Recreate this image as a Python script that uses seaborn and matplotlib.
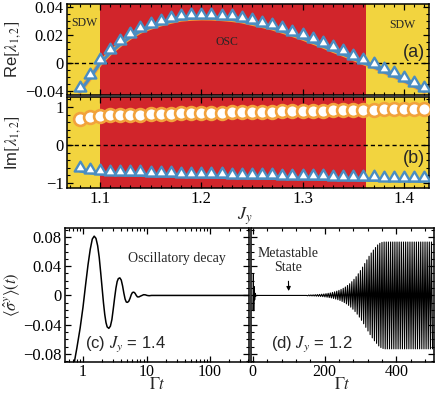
import numpy as np
import matplotlib
matplotlib.use("Agg")
import matplotlib.pyplot as plt
import seaborn as sns
from matplotlib.path import Path
from matplotlib.ticker import (MultipleLocator, FixedLocator, FixedFormatter,
                               FuncFormatter, LogLocator, NullFormatter)

# ---- data ----
jy = [1.08, 1.09, 1.10, 1.11, 1.12, 1.13, 1.14, 1.15, 1.16, 1.17,
      1.18, 1.19, 1.20, 1.21, 1.22, 1.23, 1.24, 1.25, 1.26, 1.27,
      1.28, 1.29, 1.30, 1.31, 1.32, 1.33, 1.34, 1.35, 1.36, 1.37,
      1.38, 1.39, 1.40, 1.41, 1.42]
re_lambda = [-0.0203, -0.0109, -0.0004, 0.0071, 0.0131, 0.0183, 0.0225, 0.0253,
             0.0276, 0.0295, 0.0310, 0.0316, 0.0319, 0.0318, 0.0314, 0.0308,
             0.0298, 0.0281, 0.0265, 0.0248, 0.0225, 0.0201, 0.0176, 0.0148,
             0.0120, 0.0089, 0.0061, 0.0031, 0.0001, -0.0027, -0.0062, -0.0093,
             -0.0126, -0.0163, -0.0203]
im_lambda2 = [0.68, 0.73, 0.76, 0.775, 0.785, 0.795, 0.80, 0.81, 0.815, 0.82,
              0.828, 0.834, 0.84, 0.846, 0.852, 0.857, 0.862, 0.868, 0.873, 0.878,
              0.883, 0.888, 0.893, 0.898, 0.903, 0.908, 0.913, 0.918, 0.923, 0.928,
              0.933, 0.938, 0.943, 0.948, 0.953]
im_lambda1 = [-v for v in im_lambda2]  # complex conjugate pair
osc_start, osc_end = 1.10, 1.363

# (c) J_y = 1.4, oscillatory decay
c_t = [0.70, 0.80, 0.90, 1.00, 1.10, 1.20, 1.30, 1.40, 1.50, 1.60,
       1.70, 1.80, 1.90, 2.00, 2.10, 2.20, 2.30, 2.40, 2.55, 2.70,
       2.85, 3.00, 3.15, 3.30, 3.45, 3.60, 3.80, 4.00, 4.20, 4.40,
       4.60, 4.80, 5.00, 5.25, 5.50, 5.75, 6.00, 6.30, 6.60, 6.90,
       7.20, 7.60, 8.00, 8.50, 9.00, 9.60, 10.2, 11.0, 12.0, 20.0, 500.0]
c_y = [-0.100, -0.072, -0.045, -0.016, 0.015, 0.042, 0.063, 0.077, 0.081, 0.078,
       0.068, 0.052, 0.031, 0.010, -0.010, -0.026, -0.037, -0.043, -0.045, -0.042,
       -0.033, -0.018, -0.003, 0.010, 0.019, 0.023, 0.024, 0.021, 0.013, 0.003,
       -0.005, -0.009, -0.0095, -0.008, -0.004, 0.001, 0.004, 0.0045, 0.003, 0.000,
       -0.002, -0.002, -0.001, 0.000, 0.001, 0.0008, 0.000, -0.0004, 0.0, 0.0, 0.0]

# (d) J_y = 1.2, transient then metastable plateau
d_t_start = [0.0, 1.0, 1.6, 2.7, 3.9, 5.2, 6.5, 8.0, 10.0, 150.0]
d_y_start = [-0.020, 0.010, 0.029, -0.021, 0.012, -0.006, 0.003, -0.001, 0.0, 0.0]
# growing oscillation: one amplitude per cycle, starting at t = 150
d_osc_start = 150.0
d_period = 6.0
d_amp = [0.0005, 0.0006, 0.0007, 0.0008, 0.0010, 0.0012, 0.0014, 0.0017, 0.0020, 0.0024,
         0.0029, 0.0034, 0.0041, 0.0049, 0.0058, 0.0069, 0.0082, 0.0097, 0.0115, 0.0136,
         0.0160, 0.0188, 0.0220, 0.0256, 0.0296, 0.0340, 0.0387, 0.0436, 0.0486, 0.0535,
         0.0580, 0.0620, 0.0655, 0.0690, 0.0712, 0.0725] + [0.073] * 23

# ---- style ----
yellow = "#f2d43f"
red = "#d1252b"
blue = "#4a8dc2"
orange = "#f2a23c"

sns.set_theme(style="ticks", rc={
    "xtick.direction": "in", "ytick.direction": "in",
    "xtick.top": True, "ytick.right": True,
    "xtick.major.size": 4, "ytick.major.size": 4,
    "xtick.minor.size": 2.2, "ytick.minor.size": 2.2,
    "xtick.major.width": 0.9, "ytick.major.width": 0.9,
    "xtick.minor.width": 0.8, "ytick.minor.width": 0.8,
    "xtick.major.pad": 2.5, "ytick.major.pad": 2.5,
    "axes.linewidth": 1.1, "axes.edgecolor": "black",
    "xtick.color": "black", "ytick.color": "black",
    "mathtext.fontset": "stix",
})
plt.rcParams["font.family"] = ["Liberation Serif", "DejaVu Serif"]


def fmt(v, pos):
    if abs(v) < 1e-12:
        return "0"
    return f"{v:g}".replace("-", "\u2212")


tri = Path([(0, 1.7), (-1, 0), (1, 0), (0, 1.7)],
           [Path.MOVETO, Path.LINETO, Path.LINETO, Path.CLOSEPOLY])

fig = plt.figure(figsize=(4.36, 3.95), dpi=100)
ax_a = fig.add_axes([0.1537, 0.7595, 0.830, 0.2304])
ax_b = fig.add_axes([0.1537, 0.524, 0.830, 0.2304])
ax_c = fig.add_axes([0.149, 0.0835, 0.422, 0.339])
ax_d = fig.add_axes([0.5757, 0.0835, 0.4197, 0.339])

xlim_top = (1.0675, 1.4246)
for ax in (ax_a, ax_b):
    ax.axvspan(xlim_top[0], osc_start, color=yellow, lw=0, zorder=0)
    ax.axvspan(osc_start, osc_end, color=red, lw=0, zorder=0)
    ax.axvspan(osc_end, xlim_top[1], color=yellow, lw=0, zorder=0)
    ax.axhline(0, color="black", ls=(0, (3, 2.2)), lw=1.0, zorder=1.5)
    ax.set_xlim(*xlim_top)
    ax.xaxis.set_major_locator(MultipleLocator(0.1))
    ax.xaxis.set_minor_locator(MultipleLocator(0.01))
    ax.xaxis.set_major_formatter(FuncFormatter(fmt))
    ax.tick_params(labelsize=12)

# (a) real parts (identical for both eigenvalues)
sns.lineplot(x=jy, y=re_lambda, ax=ax_a, color=orange, linewidth=3.6, zorder=2)
sns.lineplot(x=jy, y=re_lambda, ax=ax_a, color=blue, linewidth=2.2, zorder=3)
sns.scatterplot(x=jy, y=re_lambda, ax=ax_a, marker=tri, s=200, color="white",
                edgecolor=blue, linewidth=1.7, zorder=4)
ax_a.set_ylim(-0.0228, 0.0418)
ax_a.yaxis.set_major_locator(FixedLocator([-0.02, 0, 0.02, 0.04]))
ax_a.yaxis.set_major_formatter(FixedFormatter(["\u22120.04", "0", "0.02", "0.04"]))
ax_a.yaxis.set_minor_locator(MultipleLocator(0.005))
ax_a.tick_params(labelbottom=False)
ax_a.set_ylabel(r"Re$[\lambda_{1,2}]$", family="Liberation Sans", fontsize=12)
ax_a.yaxis.set_label_coords(-0.122, 0.5)
ax_a.text(1.085, 0.028, "SDW", ha="center", va="center", fontsize=8.5)
ax_a.text(1.398, 0.027, "SDW", ha="center", va="center", fontsize=8.5)
ax_a.text(1.225, 0.0145, "OSC", ha="center", va="center", fontsize=8.5)
ax_a.text(1.421, 0.0075, "(a)", ha="right", va="center", fontsize=13,
          family="Liberation Sans")

# (b) imaginary parts
sns.lineplot(x=jy, y=im_lambda2, ax=ax_b, color=orange, linewidth=2.2, zorder=2)
sns.scatterplot(x=jy, y=im_lambda2, ax=ax_b, marker="o", s=85, color="white",
                edgecolor=orange, linewidth=1.9, zorder=4)
sns.lineplot(x=jy, y=im_lambda1, ax=ax_b, color=blue, linewidth=2.2, zorder=3)
sns.scatterplot(x=jy, y=im_lambda1, ax=ax_b, marker=tri, s=200, color="white",
                edgecolor=blue, linewidth=1.7, zorder=4)
ax_b.set_ylim(-1.13, 1.26)
ax_b.yaxis.set_major_locator(FixedLocator([-1, 0, 1]))
ax_b.yaxis.set_major_formatter(FuncFormatter(fmt))
ax_b.yaxis.set_minor_locator(MultipleLocator(0.2))
ax_b.set_ylabel(r"Im$[\lambda_{1,2}]$", family="Liberation Sans", fontsize=12)
ax_b.yaxis.set_label_coords(-0.122, 0.5)
ax_b.set_xlabel(r"$J_y$", fontsize=13)
ax_b.xaxis.set_label_coords(0.492, -0.19)
ax_b.text(1.421, -0.35, "(b)", ha="right", va="center", fontsize=13,
          family="Liberation Sans")

# (c) oscillatory decay
sns.lineplot(x=c_t, y=c_y, ax=ax_c, color="black", linewidth=1.1,
             estimator=None, sort=False)
ax_c.set_xscale("log")
ax_c.set_xlim(0.52, 410)
ax_c.xaxis.set_major_locator(LogLocator(base=10, numticks=10))
ax_c.xaxis.set_minor_locator(LogLocator(base=10, subs=np.arange(2, 10), numticks=10))
ax_c.xaxis.set_major_formatter(FuncFormatter(lambda v, p: f"{v:g}"))
ax_c.xaxis.set_minor_formatter(NullFormatter())
ax_c.text(0.61, 0.77, "Oscillatory decay", transform=ax_c.transAxes,
          ha="center", va="center", fontsize=10)
ax_c.text(0.11, 0.135, r"(c) $J_y$ = 1.4", transform=ax_c.transAxes,
          ha="left", va="center", fontsize=12, family="Liberation Sans")
ax_c.set_ylabel(r"$\langle\hat{\sigma}^y\rangle(t)$", fontsize=12)
ax_c.yaxis.set_label_coords(-0.234, 0.5)

# (d) metastable state then growing oscillation
n = len(d_amp)
t_osc = d_osc_start + d_period / 2 * np.arange(2 * n)
y_osc = np.repeat(d_amp, 2) * np.tile([1, -1], n)
d_t = np.concatenate([d_t_start, t_osc[1:]])
d_y = np.concatenate([d_y_start, y_osc[1:]])
sns.lineplot(x=d_t, y=d_y, ax=ax_d, color="black", linewidth=0.8,
             estimator=None, sort=False)
ax_d.set_xlim(-5, 505)
ax_d.xaxis.set_major_locator(MultipleLocator(200))
ax_d.xaxis.set_minor_locator(MultipleLocator(40))
ax_d.xaxis.set_major_formatter(FuncFormatter(fmt))
ax_d.tick_params(labelleft=False)
ax_d.annotate("Metastable\nState", xy=(100, 0.006), xytext=(98, 0.048),
              ha="center", va="center", fontsize=10, linespacing=1.1,
              arrowprops=dict(arrowstyle="-|>", lw=0.8, color="black",
                              mutation_scale=6, shrinkA=3, shrinkB=0))
ax_d.text(0.11, 0.135, r"(d) $J_y$ = 1.2", transform=ax_d.transAxes,
          ha="left", va="center", fontsize=12, family="Liberation Sans")

for ax in (ax_c, ax_d):
    ax.set_ylim(-0.091, 0.092)
    ax.yaxis.set_major_locator(MultipleLocator(0.04))
    ax.yaxis.set_minor_locator(MultipleLocator(0.01))
    ax.yaxis.set_major_formatter(FuncFormatter(fmt))
    ax.tick_params(axis="y", labelsize=12)
    ax.tick_params(axis="x", labelsize=11.5, pad=1.5)
    ax.set_xlabel(r"$\Gamma t$", fontsize=12)
    ax.xaxis.set_label_coords(0.5, -0.115)

fig.savefig("out.png", dpi=100)
